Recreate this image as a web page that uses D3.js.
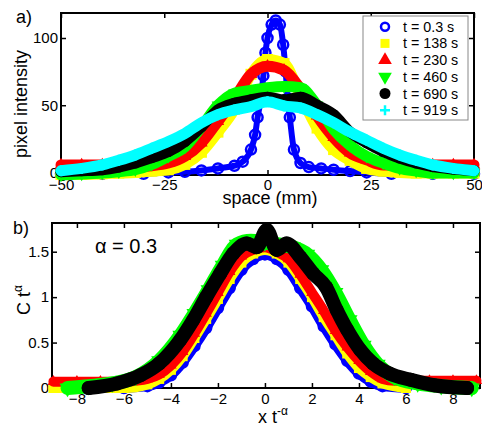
<!DOCTYPE html>
<html>
<head>
<meta charset="utf-8">
<script src="https://cdn.jsdelivr.net/npm/d3@7"></script>
<style>
  body { margin: 0; background: #fff; }
  svg text { font-family: "Liberation Sans", Arial, sans-serif; }
</style>
</head>
<body>
<svg id="chart" width="482" height="426"></svg>
<script>
// ---- data: panel a) pixel intensity profiles ----
const legendLabels = ["t = 0.3 s", "t = 138 s", "t = 230 s", "t = 460 s", "t = 690 s", "t = 919 s"];

const spaceBlue = [-50, -40, -30, -24, -20, -16, -12, -8, -6, -4, -3, -2.4, -1.6, -1, -0.5, 0, 1, 2, 3, 3.8, 4.4, 4.9, 5.4, 6.4, 8, 10, 13, 16, 20, 24, 30, 40, 50];
const intensityBlue = [-1, -1, -1, 0, 0.5, 1.5, 3, 5, 8, 17, 28, 41, 55, 72, 89, 100, 110, 113, 110, 95, 75, 55, 41, 17, 7, 4, 3, 2, 1, 0, -1, -1, -1];

const spaceGrid = [-50, -45, -40, -36, -32, -28, -24, -20, -16, -12, -8, -4, 0, 4, 8, 12, 16, 20, 24, 28, 32, 36, 40, 45, 50];
const intensity138 = [-1.5, -1.5, -1, -0.5, 0, 1, 2, 6, 15, 30, 47, 73, 84, 81, 57, 33, 17, 9, 3, 1, 0, -0.5, -0.5, -0.5, -0.5];
const intensity230 = [5.6, 5.6, 5.6, 5, 4.3, 5, 7, 12, 22, 38, 55, 73, 79, 76, 62, 42, 26, 14.5, 9.3, 5.6, 5.6, 5.6, 5.6, 5.6, 5.6];
const intensity460 = [-1.9, -1.2, -0.5, 0.5, 2, 6, 12, 19, 34, 50, 59, 61, 63, 64, 63, 50, 32, 20, 12, 7, 3, 1, -0.5, -0.5, -0.5];
const intensity690 = [0.6, 1.2, 2, 4, 7, 11, 15.5, 23, 34, 46.5, 51.5, 54, 56, 54, 56, 50, 43, 30, 22, 15.5, 10.7, 7, 4.3, 2.5, 1.3];
const intensity919 = [1.3, 3, 5.6, 9, 13, 18, 23, 29, 37, 43, 46.5, 49, 52.5, 49.5, 48, 43, 37, 30, 24, 18, 13, 9, 5.6, 3, 1.3];

const xTicksA = [-50, -25, 0, 25, 50];
const yTicksA = [0, 50, 100];

// ---- data: panel b) rescaled profiles ----
const scaledXBlue = [-6, -5, -4.5, -4, -3.5, -3, -2.5, -2, -1.5, -1, -0.5, 0, 0.5, 1, 1.5, 2, 2.5, 3, 3.5, 4, 4.5, 5, 6];
const scaledCBlue = [0, 0.02, 0.06, 0.14, 0.28, 0.46, 0.66, 0.88, 1.1, 1.3, 1.42, 1.47, 1.42, 1.3, 1.1, 0.9, 0.68, 0.48, 0.3, 0.16, 0.07, 0.02, 0];

const scaledXYellow = [-9, -8, -7, -6, -5, -4.5, -4, -3.5, -3, -2.5, -2, -1.5, -1, -0.5, 0, 0.5, 1, 1.5, 2, 2.5, 3, 3.5, 4, 4.5, 5, 6];
const scaledCYellow = [0, 0, 0, 0, 0.04, 0.1, 0.2, 0.35, 0.55, 0.76, 0.98, 1.2, 1.38, 1.48, 1.52, 1.48, 1.38, 1.2, 1.0, 0.78, 0.58, 0.38, 0.22, 0.12, 0.05, 0];

const scaledXRed = [-9, -8, -7, -6, -5.5, -5, -4.5, -4, -3.5, -3, -2.5, -2, -1.5, -1, -0.5, 0, 0.5, 1, 1.5, 2, 2.5, 3, 3.5, 4, 4.5, 5, 5.5, 6, 7, 8, 9];
const scaledCRed = [0.07, 0.07, 0.07, 0.07, 0.08, 0.1, 0.15, 0.25, 0.4, 0.6, 0.82, 1.05, 1.28, 1.45, 1.52, 1.55, 1.5, 1.42, 1.25, 1.05, 0.85, 0.63, 0.45, 0.3, 0.18, 0.1, 0.08, 0.08, 0.08, 0.08, 0.08];

const scaledXGreen = [-8.4, -7.5, -6.5, -5.5, -4.5, -3.6, -3, -2.4, -1.8, -1.2, -0.6, 0, 0.6, 1.2, 1.8, 2.4, 3, 3.6, 4.2, 4.8, 5.5, 6.5, 7.5, 8.8];
const scaledCGreen = [0, 0.02, 0.05, 0.12, 0.3, 0.58, 0.82, 1.08, 1.35, 1.58, 1.62, 1.6, 1.58, 1.55, 1.47, 1.3, 1.05, 0.75, 0.47, 0.26, 0.12, 0.05, 0.02, 0];

const scaledXBlack = [-7.5, -6.3, -5.3, -4.5, -3.6, -3.05, -2.5, -1.9, -1.35, -0.77, -0.35, 0.08, 0.5, 0.92, 1.5, 2.05, 2.6, 3.05, 3.5, 4.05, 4.6, 5.3, 6.2, 7.2, 8.6];
const scaledCBlack = [0, 0.05, 0.14, 0.27, 0.53, 0.75, 1.0, 1.26, 1.48, 1.59, 1.55, 1.74, 1.52, 1.59, 1.44, 1.26, 1.11, 0.86, 0.64, 0.42, 0.27, 0.16, 0.09, 0.03, 0];

const xTicksB = [-8, -6, -4, -2, 0, 2, 4, 6, 8];
const yTicksB = [0, 0.5, 1, 1.5];

// ---- layout ----
const panelA = {left: 61, right: 474, top: 13, bottom: 175};
const panelB = {left: 52, right: 480, top: 223, bottom: 388};

const xA = d3.scaleLinear().domain([-50, 50]).range([panelA.left, panelA.right]);
const yA = d3.scaleLinear().domain([-1.9, 118.6]).range([panelA.bottom, panelA.top]);
const xB = d3.scaleLinear().domain([-9.06, 9.15]).range([panelB.left, panelB.right]);
const yB = d3.scaleLinear().domain([0, 1.816]).range([panelB.bottom, panelB.top]);

const styles = [
    {color: "#0000ff", shape: "ring"},
    {color: "#ffff00", shape: "square"},
    {color: "#ff0000", shape: "triangle"},
    {color: "#00ff00", shape: "invtriangle"},
    {color: "#000000", shape: "circle"},
    {color: "#00ffff", shape: "plus"}
];

const svg = d3.select("#chart");

const addMarkers = (g, pts, style, size) => {
    const sel = g.append("g").selectAll("path").data(pts).join("path")
        .attr("transform", d => "translate(" + d[0] + "," + d[1] + ")" + (style.shape === "invtriangle" ? " rotate(180)" : ""));
    if (style.shape === "plus") {
        const h = size / 2;
        sel.attr("d", "M" + (-h) + ",0H" + h + "M0," + (-h) + "V" + h)
            .attr("fill", "none").attr("stroke", style.color).attr("stroke-width", 2.5);
    } else if (style.shape === "ring") {
        sel.attr("d", d3.symbol().type(d3.symbolCircle).size(Math.PI * size * size / 4)())
            .attr("fill", "none").attr("stroke", style.color).attr("stroke-width", 2.5);
    } else {
        const type = style.shape === "square" ? d3.symbolSquare
            : style.shape === "circle" ? d3.symbolCircle : d3.symbolTriangle;
        const area = style.shape === "square" ? size * size
            : style.shape === "circle" ? Math.PI * size * size / 4 : Math.sqrt(3) / 4 * size * size * 1.3;
        sel.attr("d", d3.symbol().type(type).size(area)()).attr("fill", style.color);
    }
};

const addSeries = (g, xs, ys, x, y, style, bandWidth, size) => {
    const pts = xs.map((v, i) => [x(v), y(ys[i])]);
    g.append("path")
        .datum(pts)
        .attr("fill", "none")
        .attr("stroke", style.color)
        .attr("stroke-width", bandWidth)
        .attr("stroke-linejoin", "round")
        .attr("stroke-linecap", "round")
        .attr("d", d3.line().curve(d3.curveMonotoneX));
    addMarkers(g, pts, style, size);
};

const addFrame = (p, x, y, xTicks, yTicks, xPad, yPad, fmtY) => {
    const g = svg.append("g");
    const axes = [
        [d3.axisBottom(x).tickValues(xTicks).tickSize(-5).tickPadding(xPad), "translate(0," + p.bottom + ")"],
        [d3.axisTop(x).tickValues(xTicks).tickSize(-5).tickFormat(""), "translate(0," + p.top + ")"],
        [d3.axisLeft(y).tickValues(yTicks).tickSize(-5).tickPadding(yPad).tickFormat(fmtY), "translate(" + p.left + ",0)"],
        [d3.axisRight(y).tickValues(yTicks).tickSize(-5).tickFormat(""), "translate(" + p.right + ",0)"]
    ];
    axes.forEach(([ax, tr]) => {
        const a = g.append("g").attr("transform", tr).call(ax.tickSizeOuter(0));
        a.select(".domain").remove();
        a.selectAll("line").attr("stroke", "#000").attr("stroke-width", 1.5);
        a.selectAll("text").attr("font-family", "Liberation Sans, Arial, sans-serif")
            .attr("font-size", 15).attr("fill", "#000");
    });
    g.append("rect")
        .attr("x", p.left).attr("y", p.top)
        .attr("width", p.right - p.left).attr("height", p.bottom - p.top)
        .attr("fill", "none").attr("stroke", "#000").attr("stroke-width", 2);
    return g;
};

// ---- panel a) ----
addFrame(panelA, xA, yA, xTicksA, yTicksA, 4, 3, d3.format("d"));

const gA = svg.append("g");
const seriesA = [
    [spaceBlue, intensityBlue],
    [spaceGrid, intensity138],
    [spaceGrid, intensity230],
    [spaceGrid, intensity460],
    [spaceGrid, intensity690],
    [spaceGrid, intensity919]
];
seriesA.forEach(([xs, ys], i) => {
    addSeries(gA, xs, ys, xA, yA, styles[i], i === 0 ? 6 : 11, i === 0 ? 10 : 11);
});

// legend
const legend = svg.append("g");
legend.append("rect")
    .attr("x", 363).attr("y", 16).attr("width", 105).attr("height", 104)
    .attr("fill", "#fff").attr("stroke", "#888").attr("stroke-width", 1);
legendLabels.forEach((label, i) => {
    const cy = 26.7 + i * 16.7;
    const sizes = [8, 9, 12, 12, 11, 10];
    addMarkers(legend, [[385, cy]], styles[i], sizes[i]);
    legend.append("text")
        .attr("x", 403).attr("y", cy + 5)
        .attr("font-size", 14.3)
        .text(label);
});

svg.append("text").attr("x", 16).attr("y", 23).attr("font-size", 18).text("a)");
svg.append("text")
    .attr("transform", "translate(27,104) rotate(-90)")
    .attr("text-anchor", "middle").attr("font-size", 18)
    .text("pixel intensity");
svg.append("text")
    .attr("x", 270).attr("y", 204)
    .attr("text-anchor", "middle").attr("font-size", 18)
    .text("space (mm)");

// ---- panel b) ----
addFrame(panelB, xB, yB, xTicksB, yTicksB, 5, 3, d3.format(""));

const gB = svg.append("g");
const seriesB = [
    [scaledXBlue, scaledCBlue],
    [scaledXYellow, scaledCYellow],
    [scaledXRed, scaledCRed],
    [scaledXGreen, scaledCGreen],
    [scaledXBlack, scaledCBlack]
];
seriesB.forEach(([xs, ys], i) => {
    const big = i >= 3;
    addSeries(gB, xs, ys, xB, yB, styles[i], big ? 14 : 10, big ? 14 : 10);
});

svg.append("text").attr("x", 13).attr("y", 234).attr("font-size", 18).text("b)");
svg.append("text").attr("x", 95).attr("y", 253).attr("font-size", 20).text("α = 0.3");

const yLabelB = svg.append("text")
    .attr("transform", "translate(30,300) rotate(-90)")
    .attr("text-anchor", "middle").attr("font-size", 18);
yLabelB.append("tspan").text("C t");
yLabelB.append("tspan").attr("dy", -8).attr("font-size", 12).text("α");

const xLabelB = svg.append("text")
    .attr("x", 273).attr("y", 423)
    .attr("text-anchor", "middle").attr("font-size", 18);
xLabelB.append("tspan").text("x t");
xLabelB.append("tspan").attr("dy", -8).attr("font-size", 12).text("-α");
</script>
</body>
</html>
